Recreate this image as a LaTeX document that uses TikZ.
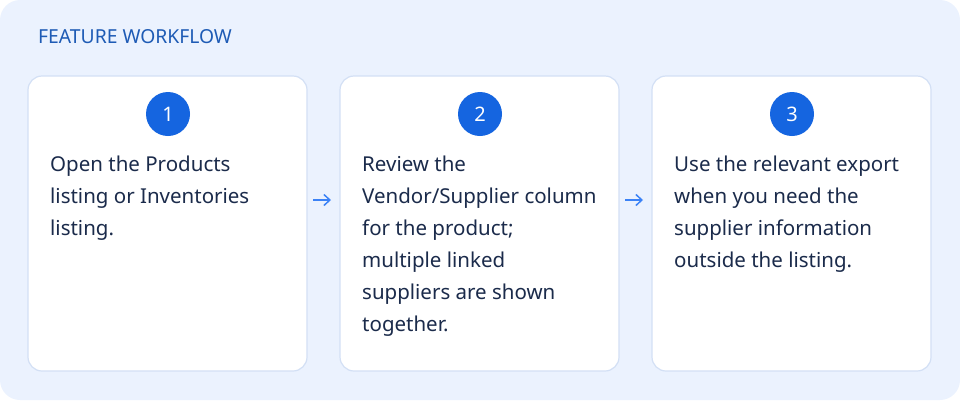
\documentclass[tikz,border=0pt]{standalone}
\usepackage{fontspec}
\usetikzlibrary{arrows.meta}
\setmainfont{Noto Sans}
\begin{document}
\begin{tikzpicture}[x=1pt,y=-1pt,
  card/.style={draw=cardb,line width=1.2pt,fill=white,rounded corners=14pt},
  num/.style={circle,fill=numb,minimum size=44pt,inner sep=0pt,text=white,font=\fontsize{20}{20}\selectfont},
  body/.style={anchor=north west,align=left,inner sep=0pt,text=txt,font=\fontsize{20.5}{32}\selectfont},
  arr/.style={-{Straight Barb[length=6pt,width=11pt]},draw=arrc,line width=1.5pt}]
\definecolor{bg}{HTML}{EBF2FE}
\definecolor{cardb}{HTML}{D3E0F5}
\definecolor{numb}{HTML}{1565E0}
\definecolor{txt}{HTML}{1B2B4B}
\definecolor{arrc}{HTML}{3B82F6}
\definecolor{ttl}{HTML}{1E5BB5}
\useasboundingbox (0,0) rectangle (960,400);
\fill[bg,rounded corners=20pt] (0,0) rectangle (960,400);
\node[anchor=base west,inner sep=0pt,text=ttl,font=\fontsize{19.3}{19}\selectfont] (title) at (38,43) {FEATURE WORKFLOW};
\foreach \i/\x in {1/28,2/340,3/652}{
  \draw[card] (\x,76) rectangle (\x+279,371);
  \node[num] (n\i) at (\x+140,114) {\i};
}
\node[body] (t1) at (50,156) {Open the Products\\listing or Inventories\\listing.};
\node[body] (t2) at (362,156) {Review the\\Vendor/Supplier column\\for the product;\\multiple linked\\suppliers are shown\\together.};
\node[body] (t3) at (674,156) {Use the relevant export\\when you need the\\supplier information\\outside the listing.};
\coordinate (a1) at (313,200); \coordinate (b1) at (331,200);
\coordinate (a2) at (625,200); \coordinate (b2) at (643,200);
\draw[arr] (a1) -- (b1);
\draw[arr] (a2) -- (b2);
\end{tikzpicture}
\end{document}
